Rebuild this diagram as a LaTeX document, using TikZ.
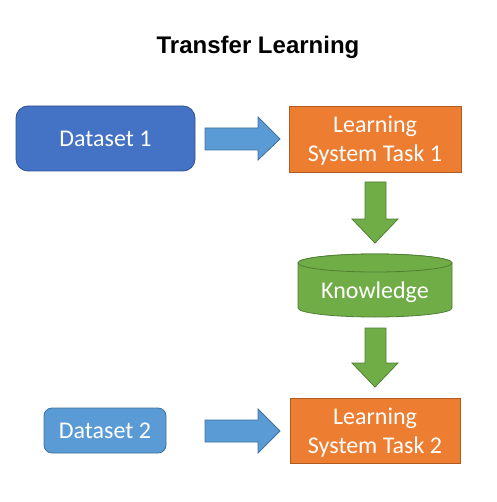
\documentclass[tikz,border=0pt]{standalone}
\usepackage{fontspec}
\setmainfont{Carlito}
\newfontfamily\titlefont{Liberation Sans}
\definecolor{dsone}{HTML}{4472C4}
\definecolor{dsoneb}{HTML}{2F528F}
\definecolor{ltblue}{HTML}{5B9BD5}
\definecolor{ltblueb}{HTML}{41719C}
\definecolor{orng}{HTML}{ED7D31}
\definecolor{orngb}{HTML}{AE5A21}
\definecolor{grn}{HTML}{70AD47}
\definecolor{grnb}{HTML}{507E32}
\tikzset{
  boxtext/.style={text=white,font=\fontsize{24bp}{29bp}\selectfont,align=center},
  blockarrow/.style={fill=ltblue,draw=ltblueb,line width=0.8bp},
  greenarrow/.style={fill=grn,draw=grnb,line width=0.8bp},
}
\begin{document}
\begin{tikzpicture}[x=1bp,y=-1bp]
\useasboundingbox (0,0) rectangle (497,502);
\node[font=\titlefont\bfseries\fontsize{24bp}{27bp}\selectfont] (title) at (258,47) {Transfer Learning};
% Dataset 1
\draw[fill=dsone,draw=dsoneb,line width=0.8bp,rounded corners=12bp] (16,106) rectangle (195,171);
\node[boxtext] (ds1) at (105.5,138.5) {Dataset 1};
% Task 1
\draw[fill=orng,draw=orngb,line width=0.8bp] (289,106) rectangle (461,172);
\node[boxtext] (t1) at (375,141) {Learning\\System Task 1};
% arrow 1
\draw[blockarrow] (205,128) -- (258,128) -- (258,117) -- (280,139) -- (258,160) -- (258,150) -- (205,150) -- cycle;
% Dataset 2
\draw[fill=ltblue,draw=ltblueb,line width=0.8bp,rounded corners=8bp] (44,408) rectangle (166,453);
\node[boxtext] (ds2) at (105,431) {Dataset 2};
% Task 2
\draw[fill=orng,draw=orngb,line width=0.8bp] (290,398) rectangle (460,463);
\node[boxtext] (t2) at (375,432.5) {Learning\\System Task 2};
% arrow 2
\draw[blockarrow] (205,420) -- (258,420) -- (258,409) -- (280,431) -- (258,453) -- (258,442) -- (205,442) -- cycle;
% green arrows
\draw[greenarrow] (365,182) -- (386,182) -- (386,219) -- (398,219) -- (375,243) -- (352,219) -- (365,219) -- cycle;
\draw[greenarrow] (365,328) -- (386,328) -- (386,363) -- (398,363) -- (375,387) -- (352,363) -- (365,363) -- cycle;
% cylinder
\draw[fill=grn,draw=grnb,line width=0.8bp] (298,263) -- (298,308) arc[start angle=180,end angle=0,x radius=77,y radius=9] -- (452,263) arc[start angle=0,end angle=-180,x radius=77,y radius=9] -- cycle;
\draw[fill=grn,draw=grnb,line width=0.8bp] (375,263) ellipse[x radius=77,y radius=9];
\node[boxtext] (kn) at (375,292) {Knowledge};
\end{tikzpicture}
\end{document}
